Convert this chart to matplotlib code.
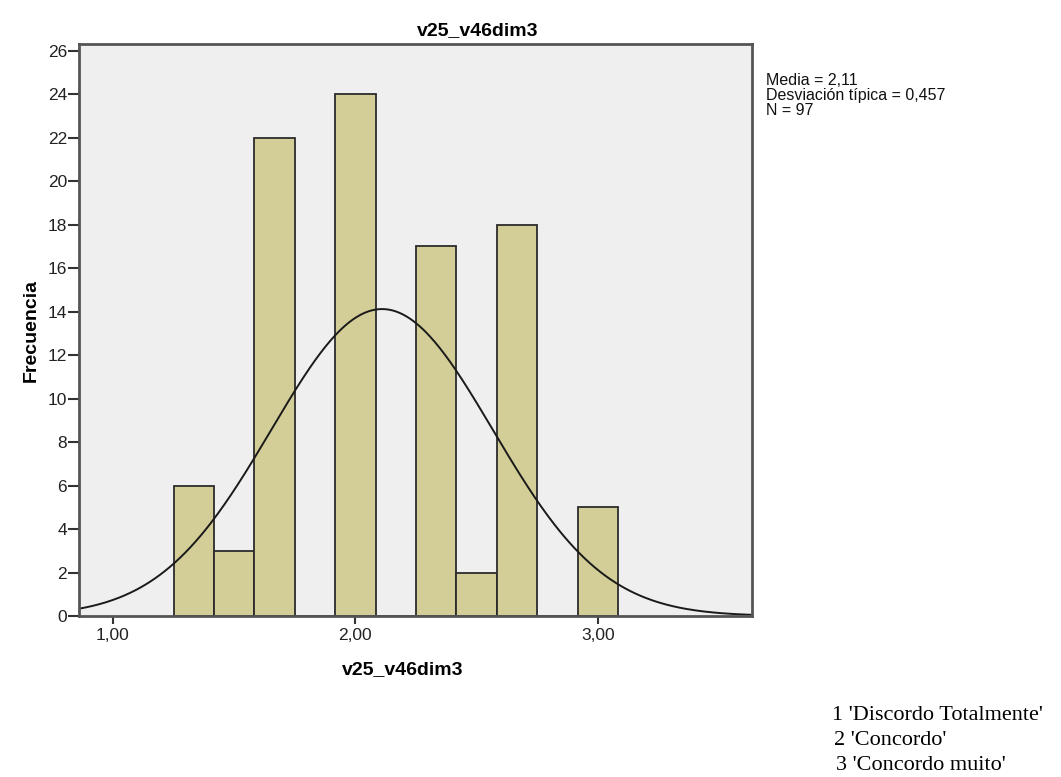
import numpy as np
import matplotlib.pyplot as plt

# histogram data (bin width 1/6)
bin_centers = [1.3333, 1.5, 1.6667, 1.8333, 2.0, 2.1667, 2.3333, 2.5, 2.6667, 2.8333, 3.0]
counts = [6, 3, 22, 0, 24, 0, 17, 2, 18, 0, 5]
mean = 2.11
std = 0.457
n = 97
bin_w = 1 / 6

y_ticks = list(range(0, 27, 2))
x_ticks = [1.0, 2.0, 3.0]
x_ticklabels = ["1,00", "2,00", "3,00"]
stats_lines = ["Media = 2,11", "Desviación típica = 0,457", "N = 97"]
legend_lines = ["1 'Discordo Totalmente'", "2 'Concordo'", "3 'Concordo muito'"]

plt.rcParams['font.family'] = ['Liberation Sans', 'DejaVu Sans']

W, H = 1061, 777
fig = plt.figure(figsize=(W / 100, H / 100), dpi=100)
ax = fig.add_axes([79 / W, 1 - 616 / H, (752 - 79) / W, (616 - 44) / H])
ax.set_facecolor("#efefef")

edges = np.arange(len(bin_centers) + 1) * bin_w + bin_centers[0] - bin_w / 2
ax.hist(bin_centers, bins=edges, weights=counts, color="#d3ce97",
        edgecolor="#2b2b2b", linewidth=1.3)

xs = np.linspace(0.86, 3.636, 400)
ys = n * bin_w / (std * np.sqrt(2 * np.pi)) * np.exp(-0.5 * ((xs - mean) / std) ** 2)
ax.plot(xs, ys, color="#1a1a1a", linewidth=1.4)

ax.set_xlim(0.86, 3.636)
ax.set_ylim(0, 26.3)
ax.set_yticks(y_ticks)
ax.set_xticks(x_ticks)
ax.set_xticklabels(x_ticklabels)
ax.tick_params(labelsize=12.5, color="#333333", width=1.5, labelcolor="#222222")
ax.tick_params(axis="y", length=8, pad=0.5)
ax.tick_params(axis="x", length=6, pad=3)
for s in ax.spines.values():
    s.set_color("#555555")
    s.set_linewidth(2)

# title is centred over the whole chart area, not the plot box
fig.text(478 / W, 1 - 35 / H, "v25_v46dim3", fontsize=14, fontweight="bold",
         ha="center", va="baseline")
fig.text(403 / W, 1 - 674 / H, "v25_v46dim3", fontsize=14, fontweight="bold",
         ha="center", va="baseline")
ax.set_ylabel("Frecuencia", fontsize=14, fontweight="bold", labelpad=6)

for i, line in enumerate(stats_lines):
    fig.text(766 / W, 1 - (85 + i * 15) / H, line, fontsize=11.5,
             va="baseline", ha="left", color="#111111")

for i, line in enumerate(legend_lines):
    fig.text((832 + i * 2) / W, 1 - (720 + i * 25) / H, line, fontsize=16,
             family="Liberation Serif", va="baseline", ha="left")

fig.savefig("out.png", dpi=100)
